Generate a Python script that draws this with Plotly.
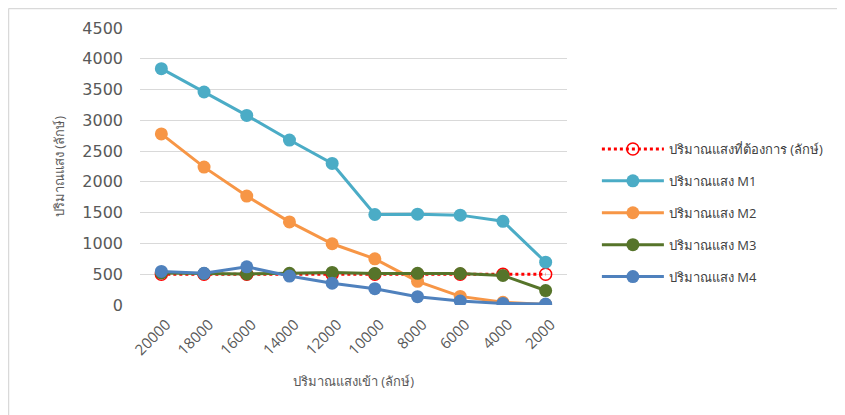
import plotly.graph_objects as go

categories = ["20000", "18000", "16000", "14000", "12000", "10000", "8000", "6000", "4000", "2000"]
required = [500, 500, 500, 500, 500, 500, 500, 500, 500, 500]
m1 = [3840, 3460, 3080, 2680, 2300, 1470, 1475, 1460, 1360, 695]
m2 = [2780, 2240, 1770, 1350, 995, 750, 385, 140, 45, 10]
m3 = [520, 510, 505, 515, 530, 510, 515, 510, 480, 235]
m4 = [545, 515, 620, 470, 355, 265, 135, 65, 25, 15]

names = ["ปริมาณแสงที่ต้องการ (ลักษ์)", "ปริมาณแสง M1", "ปริมาณแสง M2", "ปริมาณแสง M3", "ปริมาณแสง M4"]
colors = ["#FF0000", "#4BACC6", "#F79646", "#56742A", "#4F81BD"]

font_family = "Open Sans, Noto Sans, DejaVu Sans, sans-serif"

# plot area in figure pixels (page has an 8px body offset)
L, R, T, B = 132, 559, 20, 297
W, H = R - L, B - T

fig = go.Figure()

fig.add_trace(go.Scatter(
    x=categories, y=required, name=names[0], mode="lines+markers",
    line=dict(color=colors[0], width=3, dash="dot"),
    marker=dict(symbol="circle-open", size=12, color=colors[0], line=dict(width=1.5)),
    legendgroup="g0",
))
for i, ys in enumerate([m1, m2, m3, m4], start=1):
    fig.add_trace(go.Scatter(
        x=categories, y=ys, name=names[i], mode="lines+markers",
        line=dict(color=colors[i], width=3),
        marker=dict(symbol="circle", size=13, color=colors[i]),
        legendgroup=f"g{i}",
    ))

fig.update_layout(
    width=845, height=415,
    margin=dict(l=L, r=845 - R, t=T, b=415 - B),
    paper_bgcolor="white", plot_bgcolor="white",
    font=dict(family=font_family, color="#595959"),
    showlegend=True,
    legend=dict(x=1.07, y=(B - 205) / H, yanchor="middle", xanchor="left",
                font=dict(size=13, color="#404040"),
                itemwidth=62, tracegroupgap=12, bgcolor="rgba(0,0,0,0)"),
    xaxis=dict(type="category", range=[-0.5, 9.5], tickangle=-45,
               tickfont=dict(size=15, color="#595959"), showgrid=False,
               showline=False, zeroline=False, ticks="",
               ticklabelstandoff=7, ticklabelshift=5,
               title=dict(text="ปริมาณแสงเข้า (ลักษ์)", font=dict(size=13, color="#595959"), standoff=18)),
    yaxis=dict(range=[0, 4500], dtick=500,
               tickfont=dict(size=16, color="#595959", family="DejaVu Sans, sans-serif"),
               showgrid=True, gridcolor="#D9D9D9", gridwidth=1, zeroline=False,
               showline=False, ticks="", ticklabelstandoff=16,
               title=dict(text="ปริมาณแสง (ลักษ์)", font=dict(size=13, color="#595959"), standoff=14)),
    shapes=[
        dict(type="line", xref="paper", yref="paper", x0=(0.5 - L) / W, x1=(845 - L) / W,
             y0=(B - 0.5) / H, y1=(B - 0.5) / H, line=dict(color="#D9D9D9", width=1.5)),
        dict(type="line", xref="paper", yref="paper", x0=(0.5 - L) / W, x1=(0.5 - L) / W,
             y0=(B - 0.5) / H, y1=(B - 415) / H, line=dict(color="#D9D9D9", width=1.5)),
    ],
)

fig.write_html("out.html")
